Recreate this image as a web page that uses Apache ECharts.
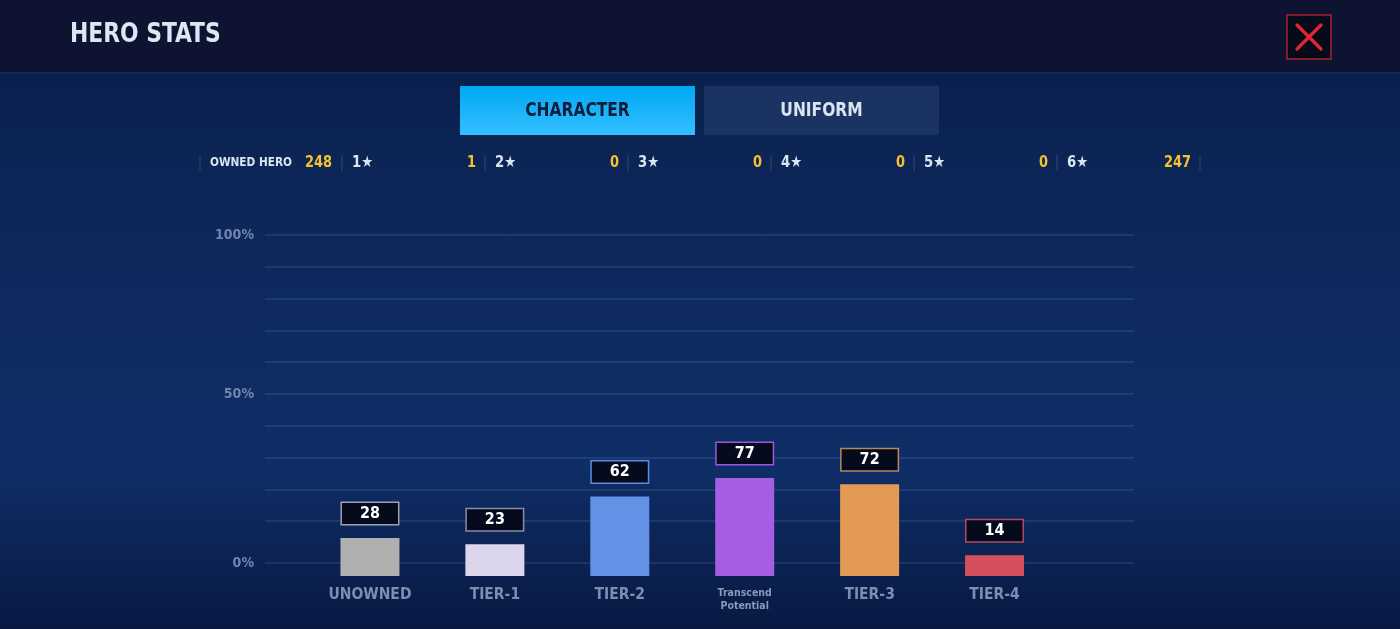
<!DOCTYPE html>
<html>
<head>
<meta charset="utf-8">
<title>Hero Stats</title>
<script src="https://cdn.jsdelivr.net/npm/echarts@6/dist/echarts.min.js"></script>
<style>
  html, body { margin: 0; padding: 0; }
  body {
    width: 1400px; height: 629px; overflow: hidden;
    background: linear-gradient(to bottom,
      #0d1330 0px, #0d1330 72px, #0a1f4c 74px, #0b2454 140px,
      #0f2c63 380px, #0f2d66 470px, #0b2150 570px, #081842 629px);
  }
  #chart { width: 1400px; height: 629px; }
</style>
</head>
<body>
<div id="chart"></div>
<script>
  // data
  var categories = ['UNOWNED', 'TIER-1', 'TIER-2', 'Transcend\nPotential', 'TIER-3', 'TIER-4'];
  var heroCounts = [28, 23, 62, 77, 72, 14];
  var barColors = ['#b0b0b0', '#dcd6ec', '#6291e6', '#a45de3', '#e39a55', '#d5505f'];
  var labelBorders = ['#9aa2b4', '#8c8ca6', '#5b8de2', '#9b58d8', '#b98662', '#b54a66'];
  var starLabels = ['1★', '2★', '3★', '4★', '5★', '6★'];
  var starCounts = [1, 0, 0, 0, 0, 247];
  var ownedHero = 248;
  var tabs = ['CHARACTER', 'UNIFORM'];

  var totalHeroes = ownedHero + heroCounts[0]; // 100%
  var FONT = "'Liberation Sans Narrow', 'DejaVu Sans Condensed', 'Roboto Condensed', 'Noto Sans', sans-serif";
  var axisTextColor = '#7185ad';
  var gridLineColor = 'rgba(120,150,210,0.22)';

  var myChart = echarts.init(document.getElementById('chart'), null, { renderer: 'canvas' });

  // narrow text helper, the game font is more condensed than what is installed
  function label(text, x, y, size, fill, align, sx) {
    return {
      type: 'text', x: x, y: y, scaleX: sx || 1,
      style: { text: text, x: 0, y: 0, textAlign: align || 'left', textVerticalAlign: 'middle',
        fill: fill, font: 'bold ' + size + 'px ' + FONT }
    };
  }

  // top chrome: header, close button, tabs, star row
  var graphics = [
    { type: 'rect', shape: { x: 0, y: 0, width: 1400, height: 72 }, style: { fill: '#0d1330' } },
    { type: 'rect', shape: { x: 0, y: 72, width: 1400, height: 2 }, style: { fill: '#102a5c' } },
    label('HERO STATS', 70, 35, 27, '#dbe7f3', 'left', 0.9),
    { type: 'rect', shape: { x: 1287, y: 15, width: 44, height: 44 },
      style: { fill: '#070a1b', stroke: '#a8232c', lineWidth: 1.5 } },
    { type: 'line', shape: { x1: 1297, y1: 25, x2: 1321, y2: 49 },
      style: { stroke: '#e3262f', lineWidth: 3.2, lineCap: 'round' } },
    { type: 'line', shape: { x1: 1321, y1: 25, x2: 1297, y2: 49 },
      style: { stroke: '#e3262f', lineWidth: 3.2, lineCap: 'round' } }
  ];

  tabs.forEach(function (t, i) {
    var x = 460 + i * 244;
    graphics.push({
      type: 'rect', shape: { x: x, y: 86, width: 235, height: 49 },
      style: {
        fill: i === 0 ? new echarts.graphic.LinearGradient(0, 0, 0, 1, [
          { offset: 0, color: '#00a8f4' }, { offset: 1, color: '#34bfff' }]) : '#1b3360'
      }
    });
    graphics.push(label(t, x + 117.5, 111, 20, i === 0 ? '#0b1e3b' : '#d9e5f2', 'center', 0.86));
  });

  var rowY = 163;
  var sepXs = [200];
  graphics.push(label('OWNED HERO', 210, rowY, 13, '#dbe5f0', 'left', 0.9));
  graphics.push(label(String(ownedHero), 305, rowY, 16, '#f4c22b', 'left', 0.9));
  starLabels.forEach(function (s, i) {
    var left = 342 + 143 * i;
    sepXs.push(left);
    graphics.push(label(s, left + 10, rowY, 16, '#dbe5f0', 'left', 0.92));
    graphics.push(label(String(starCounts[i]), left + 134, rowY, 16, '#f4c22b', 'right', 0.9));
  });
  sepXs.push(342 + 143 * 6);
  sepXs.forEach(function (x) {
    graphics.push({ type: 'line', shape: { x1: x, y1: 155, x2: x, y2: 171 },
      style: { stroke: '#34496f', lineWidth: 1 } });
  });

  var opt = {
    animation: false,
    backgroundColor: 'transparent',
    textStyle: { fontFamily: FONT },
    graphic: graphics,
    grid: [
      { left: 307.5, right: 343, top: 234.4, bottom: 53 },   // bars
      { left: 265, right: 266, top: 235, bottom: 76 },       // 10%..100% lines
      { left: 265, right: 266, top: 235, bottom: 66 }        // 0% line
    ],
    xAxis: [
      {
        type: 'category', gridIndex: 0, data: categories,
        axisLine: { show: false }, axisTick: { show: false },
        axisLabel: {
          interval: 0, margin: 11, color: '#7f8db0', fontSize: 15.5, fontWeight: 'bold', fontFamily: FONT,
          formatter: function (v) {
            return v.indexOf('\n') > -1 ? v.split('\n').map(function (p) { return '{s|' + p + '}'; }).join('\n') : v;
          },
          rich: { s: { fontSize: 10.5, lineHeight: 13, color: '#8a9abb', fontWeight: 'bold', fontFamily: FONT } }
        }
      },
      { type: 'value', gridIndex: 1, min: 0, max: 1, show: false },
      { type: 'value', gridIndex: 2, min: 0, max: 1, show: false }
    ],
    yAxis: [
      { type: 'value', gridIndex: 0, min: -3, max: totalHeroes, startValue: -3, show: false },
      {
        type: 'value', gridIndex: 1, min: 0, max: 100, interval: 10,
        axisLine: { show: false }, axisTick: { show: false },
        splitLine: { show: true, showMinLine: false, lineStyle: { color: gridLineColor, width: 1.5 } },
        axisLabel: {
          margin: 11, color: axisTextColor, fontSize: 14, fontWeight: 'bold', fontFamily: FONT,
          formatter: function (v) { return (v === 100 || v === 50) ? v + '%' : ''; }
        }
      },
      {
        type: 'value', gridIndex: 2, min: 0, max: 100, interval: 100,
        axisLine: { show: false }, axisTick: { show: false },
        splitLine: { show: true, showMaxLine: false, lineStyle: { color: gridLineColor, width: 1.5 } },
        axisLabel: {
          margin: 11, color: axisTextColor, fontSize: 14, fontWeight: 'bold', fontFamily: FONT,
          formatter: function (v) { return v === 0 ? '0%' : ''; }
        }
      }
    ],
    series: [{
      type: 'bar',
      xAxisIndex: 0, yAxisIndex: 0,
      barWidth: 59,
      data: heroCounts.map(function (v, i) {
        return { value: v, itemStyle: { color: barColors[i] }, label: { borderColor: labelBorders[i] } };
      }),
      label: {
        show: true, position: 'top', distance: 14,
        color: '#ffffff', fontSize: 16, fontWeight: 'bold', fontFamily: FONT,
        backgroundColor: '#050b1c', borderWidth: 1.5,
        width: 56, height: 21, lineHeight: 21, align: 'center', padding: 0
      }
    }]
  };

  myChart.setOption(opt);
  window.addEventListener('resize', function () { myChart.resize(); });
</script>
</body>
</html>
